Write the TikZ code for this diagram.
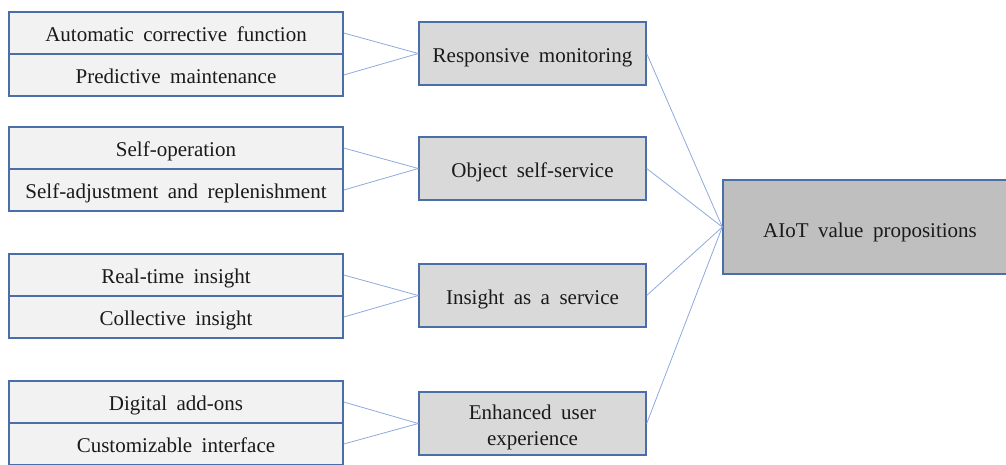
\documentclass[tikz,border=0pt]{standalone}
\usepackage{fontspec}
\setmainfont{Liberation Serif}
\definecolor{bord}{HTML}{4A6EA8}
\definecolor{conn}{HTML}{8EAADC}
\definecolor{rowfill}{HTML}{F2F2F2}
\definecolor{midfill}{HTML}{D9D9D9}
\definecolor{bigfill}{HTML}{BFBFBF}
\definecolor{txt}{HTML}{1A1A1A}
\newcommand\diafont{\fontsize{21}{26}\selectfont\spaceskip=0.45em plus 0.1em minus 0.05em\relax}
\tikzset{
  rowbox/.style={draw=bord, line width=1.4pt, fill=rowfill, minimum width=334pt, minimum height=42pt, inner sep=0pt, text=txt, font=\diafont, text height=17pt, text depth=1pt},
  midbox/.style={draw=bord, line width=1.4pt, fill=midfill, minimum width=227pt, minimum height=63pt, inner sep=0pt, text=txt, align=center, font=\diafont},
  oneline/.style={text height=18pt, text depth=0pt},
  bigbox/.style={draw=bord, line width=1.4pt, fill=bigfill, minimum width=294pt, minimum height=94pt, inner sep=0pt, text=txt, font=\diafont, text height=20pt, text depth=0pt},
  plaintext/.style={inner sep=0pt, text=txt, align=center, font=\diafont},
  conline/.style={draw=conn, line width=0.8pt}
}
\begin{document}
\begin{tikzpicture}[x=1pt,y=-1pt]
\useasboundingbox (0,0) rectangle (1006,464);
% left rows
\node[rowbox] (a1) at (176,33) {Automatic corrective function};
\node[rowbox] (a2) at (176,75) {Predictive maintenance};
\node[rowbox] (b1) at (176,148) {Self-operation};
\node[rowbox] (b2) at (176,190) {Self-adjustment and replenishment};
\node[rowbox] (c1) at (176,275) {Real-time insight};
\node[rowbox] (c2) at (176,317) {Collective insight};
\node[rowbox] (d1) at (176,402) {Digital add-ons};
\node[rowbox] (d2) at (176,444) {Customizable interface};
% middle boxes
\node[midbox, oneline] (m1) at (532.5,53.5) {Responsive monitoring};
\node[midbox, oneline] (m2) at (532.5,168.5) {Object self-service};
\node[midbox, oneline] (m3) at (532.5,295.5) {Insight as a service};
\node[midbox] (m4) at (532.5,423.5) {};
\node[plaintext] (m4t) at (532.5,427.5) {Enhanced user\\experience};
% big box
\node[bigbox] (v) at (870,227) {AIoT value propositions};
% connectors
\draw[conline] (a1.east) -- (m1.west);
\draw[conline] (a2.east) -- (m1.west);
\draw[conline] (b1.east) -- (m2.west);
\draw[conline] (b2.east) -- (m2.west);
\draw[conline] (c1.east) -- (m3.west);
\draw[conline] (c2.east) -- (m3.west);
\draw[conline] (d1.east) -- (m4.west);
\draw[conline] (d2.east) -- (m4.west);
\draw[conline] (m1.east) -- (v.west);
\draw[conline] (m2.east) -- (v.west);
\draw[conline] (m3.east) -- (v.west);
\draw[conline] (m4.east) -- (v.west);
\end{tikzpicture}
\end{document}
